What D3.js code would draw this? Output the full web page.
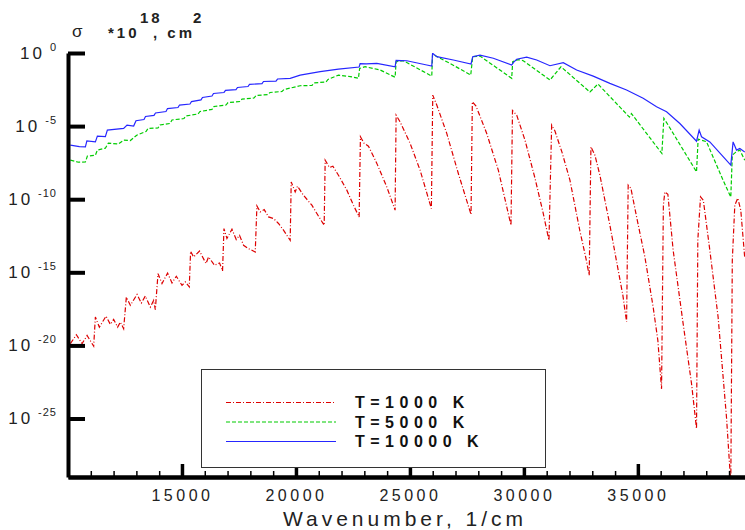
<!DOCTYPE html>
<html>
<head>
<meta charset="utf-8">
<script src="https://cdn.jsdelivr.net/npm/d3@7/dist/d3.min.js"></script>
<style>
  body { margin: 0; background: #fff; }
  svg { font-family: "Liberation Sans", Arial, sans-serif; }
  .axis text { fill: #222; }
  .y.axis text { font-size: 17px; letter-spacing: 3px; }
  .y.axis text .sup { font-size: 11px; letter-spacing: 1px; }
  .x.axis text { font-size: 16px; letter-spacing: 3.5px; }
  .line { fill: none; stroke-width: 1.2; }
</style>
</head>
<body>
<svg id="chart" width="745" height="530"></svg>
<script>
// [wavenumber 1/cm, log10 sigma], sigma in units of 1e-18 cm^2
const t1000 = [
  [10105,-19.88],[10368,-19.27],[10618,-19.88],[10837,-19.32],[11126,-20.05],
  [11201,-18.06],[11376,-18.75],[11670,-18.0],[11858,-18.56],[12003,-18.22],[12178,-18.75],[12297,-18.40],[12441,-18.86],
  [12560,-16.69],[12735,-17.26],[13029,-16.51],[13217,-17.10],[13393,-16.62],[13612,-17.38],[13756,-16.92],[13831,-17.56],
  [13949,-15.09],[14124,-15.77],[14370,-15.05],[14563,-15.73],[14751,-15.27],[15001,-15.89],[15146,-15.66],[15321,-16.0],
  [15378,-13.56],[15510,-13.95],[15772,-13.54],[16053,-14.40],[16167,-13.95],[16430,-14.52],[16649,-14.36],[16780,-14.91],
  [16842,-12.01],[16973,-12.69],[17193,-12.05],[17381,-12.76],[17526,-12.47],[17701,-13.15],[17920,-13.38],[18214,-13.61],
  [18288,-10.46],[18433,-10.87],[18608,-10.71],[18797,-11.21],[19016,-11.32],[19235,-11.66],[19454,-12.12],[19748,-12.81],
  [19792,-8.82],[19967,-9.5],[20068,-9.11],[20331,-9.73],[20699,-10.41],[20918,-10.98],[21238,-11.78],
  [21282,-7.33],[21470,-7.83],[21619,-7.74],[21865,-8.36],[22233,-9.38],[22522,-10.41],[22772,-11.21],
  [22829,-5.73],[22991,-6.18],[23180,-6.37],[23548,-7.55],[23986,-9.16],[24350,-10.75],
  [24394,-4.25],[24569,-4.71],[25008,-6.18],[25446,-8.01],[25941,-10.64],
  [26002,-2.88],[26178,-3.56],[26616,-5.5],[27124,-8.24],[27681,-11.05],
  [27738,-3.34],[27900,-3.63],[28369,-5.5],[28878,-8.01],[29434,-11.78],
  [29500,-3.94],[29684,-4.25],[30048,-5.96],[30486,-8.56],[30837,-10.89],[31100,-12.81],
  [31218,-4.93],[31363,-5.34],[31670,-6.78],[32020,-8.70],[32459,-12.19],[32722,-14.04],[32866,-15.21],
  [32941,-6.42],[33116,-6.99],[33335,-8.36],[33773,-11.78],[34137,-14.86],[34343,-16.58],[34505,-18.40],
  [34575,-9.04],[34694,-9.25],[34944,-11.21],[35308,-13.95],[35671,-17.38],[35877,-19.66],[36039,-22.97],
  [36119,-10.41],[36184,-9.50],[36316,-9.66],[36548,-13.49],[36986,-18.51],[37355,-22.62],[37573,-25.70],
  [37630,-12.81],[37749,-9.84],[37872,-10.07],[38157,-13.49],[38520,-18.06],[38888,-24.91],[39077,-29.45],
  [39143,-14.18],[39253,-10.41],[39384,-9.93],[39515,-10.75],[39690,-14.04]
];

const t5000 = [
  [10105,-7.33],[10456,-7.47],[10763,-7.45],[10850,-7.05],[11201,-6.99],[11289,-6.64],[11639,-6.51],
  [11771,-6.16],[12209,-6.23],[12441,-5.96],[12735,-5.99],[13014,-5.62],[13422,-5.37],[13510,-5.16],
  [13948,-5.13],[14036,-4.92],[14475,-4.82],[14562,-4.58],[15089,-4.48],[15177,-4.31],[15703,-4.17],
  [15791,-4.00],[16317,-3.86],[16405,-3.66],[16931,-3.56],[17019,-3.39],[17546,-3.32],[17633,-3.15],
  [18160,-3.08],[18248,-2.91],[18774,-2.84],[18862,-2.70],[19388,-2.63],[19476,-2.50],[20178,-2.24],
  [20704,-2.22],[20792,-2.05],[21318,-1.98],[21406,-1.81],[21865,-1.51],[22378,-1.61],[22741,-1.73],
  [22794,-1.05],[23035,-0.94],[23692,-1.16],[24350,-1.66],[24394,-0.60],[24714,-0.53],[25959,-1.58],
  [25994,-0.07],[26322,-0.36],[26761,-0.71],[27668,-1.51],[27755,-0.25],[28075,-0.21],[29465,-1.73],
  [29509,-0.60],[29741,-0.45],[29973,-0.53],[31144,-1.85],[31626,-0.94],[32897,-2.67],[33247,-2.12],
  [34628,-4.38],[34716,-4.14],[36053,-6.87],[36140,-4.47],[36329,-4.93],[37573,-8.13],[37644,-5.89],
  [38012,-6.07],[38739,-8.70],[39077,-9.86],[39143,-6.99],[39296,-6.78],[39472,-6.64],[39690,-7.33]
];

const t10000 = [
  [10105,-6.30],[10500,-6.40],[10763,-6.42],[10828,-6.01],[11201,-6.08],[11289,-5.68],[11639,-5.72],
  [11727,-5.27],[12441,-5.16],[12590,-4.93],[12880,-5.0],[12983,-4.63],[13334,-4.55],[13400,-4.34],
  [13773,-4.27],[13839,-4.10],[14299,-4.00],[14365,-3.80],[14826,-3.73],[14892,-3.56],[15352,-3.49],
  [15418,-3.32],[15835,-3.21],[15900,-3.04],[16317,-2.94],[16383,-2.77],[16844,-2.70],[16910,-2.56],
  [17370,-2.50],[17436,-2.36],[17897,-2.29],[17962,-2.15],[18511,-2.09],[18577,-1.95],[19125,-1.92],
  [19191,-1.78],[19748,-1.73],[20186,-1.51],[21063,-1.28],[21865,-1.10],[22772,-0.96],[22815,-0.72],
  [23079,-0.75],[23548,-0.71],[24350,-0.94],[24394,-0.51],[24863,-0.53],[25739,-0.82],[25959,-0.89],
  [25994,-0.02],[26178,-0.25],[26905,-0.48],[27681,-0.75],[27755,-0.25],[28075,-0.14],[28659,-0.36],
  [29465,-0.82],[29535,-0.66],[29684,-0.43],[30122,-0.29],[30561,-0.48],[31144,-0.87],[31727,-0.66],
  [32314,-1.16],[33041,-1.58],[33773,-2.08],[34505,-2.53],[35233,-3.10],[35820,-3.68],[36259,-4.02],
  [36842,-4.82],[37573,-6.03],[37688,-5.27],[37793,-5.73],[38157,-6.08],[39077,-7.67],[39178,-6.08],
  [39327,-6.64],[39472,-6.53],[39690,-6.78]
];

const seriesNames = ["T=1000 K", "T=5000 K", "T=10000 K"];
const seriesColors = ["#dd0000", "#00cc00", "#2626ff"];
const seriesDash = ["5,2,1,2", "4,2", null];
const yTickExp = [0, -5, -10, -15, -20, -25];
const xMajorTicks = [15000, 20000, 25000, 30000, 35000];
const xMinorTicks = d3.range(11000, 40000, 1000).filter(v => v % 5000 !== 0);

const margin = {top: 53, right: 0, bottom: 53, left: 68};
const width = 745, height = 530;

const svg = d3.select("#chart");

const x = d3.scaleLinear().domain([10000, 39700]).range([margin.left, width - margin.right]);
const y = d3.scaleLog().domain([1e-29, 1]).range([height - margin.bottom, margin.top]);

svg.append("clipPath").attr("id", "plot-clip")
  .append("rect")
    .attr("x", margin.left).attr("y", margin.top)
    .attr("width", width - margin.left - margin.right)
    .attr("height", height - margin.top - margin.bottom);

// lines
let line = d3.line()
  .x(d => x(d[0]))
  .y(d => y(Math.pow(10, d[1])));

let series = [t1000, t5000, t10000];
svg.append("g").attr("clip-path", "url(#plot-clip)")
  .selectAll("path").data(series)
  .enter().append("path")
    .attr("class", "line")
    .attr("stroke", (d, i) => seriesColors[i])
    .attr("stroke-dasharray", (d, i) => seriesDash[i])
    .attr("d", line);

// x axis: minor then major ticks
let gxMinor = svg.append("g").attr("class", "x axis minor")
  .attr("transform", "translate(0," + (height - margin.bottom) + ")")
  .call(d3.axisBottom(x).tickValues(xMinorTicks).tickSizeInner(-6).tickSizeOuter(0).tickFormat(""));
gxMinor.selectAll("line").style("stroke", "#000").style("stroke-width", "1.5px");

let gx = svg.append("g").attr("class", "x axis major")
  .attr("transform", "translate(0," + (height - margin.bottom) + ")")
  .call(d3.axisBottom(x).tickValues(xMajorTicks).tickSizeInner(-13).tickSizeOuter(0).tickPadding(13).tickFormat(d3.format("d")));
gx.selectAll("line").style("stroke", "#000").style("stroke-width", "3.5px");
svg.selectAll(".x.axis .domain").style("stroke", "#000").style("stroke-width", "4px");

// y axis, labels as 10 with superscript exponent
let gy = svg.append("g").attr("class", "y axis major")
  .attr("transform", "translate(" + margin.left + ",0)")
  .call(d3.axisLeft(y).tickValues(yTickExp.map(e => Math.pow(10, e))).tickSizeInner(-17).tickSizeOuter(0).tickPadding(11).tickFormat(""));
gy.selectAll(".domain").style("stroke", "#000").style("stroke-width", "4px");
gy.selectAll("line").style("stroke", "#000").style("stroke-width", "4px");

gy.selectAll(".tick text").each(function(d, i) {
  let t = d3.select(this);
  t.append("tspan").text("10");
  t.append("tspan").attr("class", "sup").attr("dx", 5).attr("dy", -8).text(yTickExp[i]);
});

// axis title
svg.append("text")
  .attr("x", 405).attr("y", 526)
  .attr("text-anchor", "middle")
  .style("font-size", "21px").style("letter-spacing", "4px").style("fill", "#222")
  .text("Wavenumber, 1/cm");

// top-left unit label: sigma  *10^18, cm^2
let unit = svg.append("g").style("fill", "#222");
unit.append("text").attr("x", 72).attr("y", 37).style("font-size", "17px").text("σ");
unit.append("text").attr("x", 108).attr("y", 38).style("font-size", "15px").style("font-weight", "bold").style("letter-spacing", "3px").text("*10");
unit.append("text").attr("x", 140).attr("y", 23).style("font-size", "15px").style("font-weight", "bold").style("letter-spacing", "3px").text("18");
unit.append("text").attr("x", 153).attr("y", 38).style("font-size", "15px").style("font-weight", "bold").style("letter-spacing", "3px").text(", cm");
unit.append("text").attr("x", 193).attr("y", 23).style("font-size", "15px").style("font-weight", "bold").text("2");

// legend
let legend = svg.append("g").attr("transform", "translate(201,369)");
legend.append("rect")
  .attr("x", 0.5).attr("y", 0.5)
  .attr("width", 344).attr("height", 98)
  .attr("fill", "#fff").attr("stroke", "#333").attr("stroke-width", 1);

let items = legend.selectAll(".item").data(seriesNames)
  .enter().append("g")
    .attr("class", "item")
    .attr("transform", (d, i) => "translate(0," + (33.5 + i * 19.5) + ")");

items.append("line")
  .attr("x1", 25).attr("x2", 135)
  .attr("stroke", (d, i) => seriesColors[i])
  .attr("stroke-dasharray", (d, i) => seriesDash[i])
  .attr("stroke-width", 1.2);

items.append("text")
  .attr("x", 154).attr("dy", "0.36em")
  .style("font-size", "16px").style("font-weight", "bold").style("letter-spacing", "5.5px").style("fill", "#111")
  .text(d => d);
</script>
</body>
</html>
